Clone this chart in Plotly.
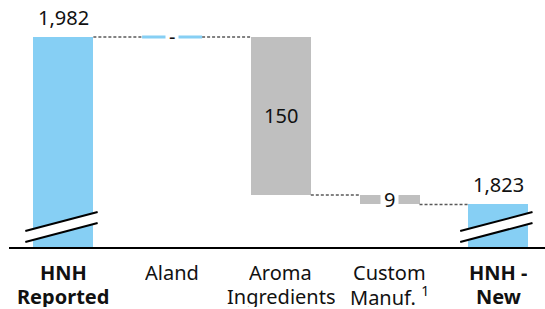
import plotly.graph_objects as go

# ---------------- data ----------------
categories = ["HNH Reported", "Aland", "Aroma Ingredients", "Custom Manuf.", "HNH - New"]
label_line1 = ["<b>HNH</b>", "Aland", "Aroma", "Custom", "<b>HNH -</b>"]
label_line2 = ["<b>Reported</b>", "", "Ingredients", "Manuf. <sup>1</sup>", "<b>New</b>"]
values = [1982, 0, -150, -9, 1823]
measures = ["total", "relative", "relative", "relative", "total"]
value_labels = ["1,982", "-", "150", "9", "1,823"]

# ---------------- style ----------------
BLUE = "#86CFF4"
GRAY = "#BFBFBF"
CONN = "#595959"
FONT = "Noto Sans"
Y_MIN, Y_MAX = 1782.6, 2017
X_MIN, X_MAX = -0.5, 4.43
BAR_W = 0.552

xs = list(range(len(categories)))
lowers, uppers, levels = [], [], []
running = 0
for v, m in zip(values, measures):
    if m == "total":
        lo, hi = 0, v
        running = v
    else:
        start = running
        running = running + v
        lo, hi = min(start, running), max(start, running)
    lowers.append(lo)
    uppers.append(hi)
    levels.append(running)

colors = [BLUE if m == "total" else GRAY for m in measures]

fig = go.Figure()
fig.add_trace(go.Bar(
    x=xs, y=[u - l for u, l in zip(uppers, lowers)], base=lowers,
    width=BAR_W, marker=dict(color=colors, line=dict(width=0)),
    hoverinfo="skip", showlegend=False,
))

shapes = []
# connectors
for i in range(len(xs) - 1):
    shapes.append(dict(type="line", xref="x", yref="y",
                       x0=xs[i] + BAR_W / 2, x1=xs[i + 1] - BAR_W / 2,
                       y0=levels[i], y1=levels[i],
                       line=dict(color=CONN, width=1.5, dash="3px,2px")))
# zero-value bars drawn as a line
for i, v in enumerate(values):
    if measures[i] != "total" and v == 0:
        shapes.append(dict(type="line", xref="x", yref="y",
                           x0=xs[i] - BAR_W / 2, x1=xs[i] + BAR_W / 2,
                           y0=levels[i], y1=levels[i],
                           line=dict(color=BLUE, width=3)))
# axis break marks on total bars
BREAK_LOW = (4.7, 22.8)
BREAK_HIGH = (15.2, 33.2)
for i, m in enumerate(measures):
    if m != "total":
        continue
    xa, xb = xs[i] - 0.35, xs[i] + 0.315
    path = (f"M {xa},{Y_MIN + BREAK_LOW[0]} L {xb},{Y_MIN + BREAK_LOW[1]} "
            f"L {xb},{Y_MIN + BREAK_HIGH[1]} L {xa},{Y_MIN + BREAK_HIGH[0]} Z")
    shapes.append(dict(type="path", xref="x", yref="y", path=path,
                       fillcolor="white", line=dict(width=0)))
    for lo_hi in (BREAK_LOW, BREAK_HIGH):
        shapes.append(dict(type="line", xref="x", yref="y",
                           x0=xa, x1=xb, y0=Y_MIN + lo_hi[0], y1=Y_MIN + lo_hi[1],
                           line=dict(color="black", width=2)))

annotations = []
for i, (m, v, t) in enumerate(zip(measures, values, value_labels)):
    if m == "total":
        annotations.append(dict(x=xs[i], y=uppers[i], xref="x", yref="y", text=t,
                                showarrow=False, yanchor="bottom", yshift=4,
                                font=dict(family=FONT, size=20, color="#111")))
    else:
        small = abs(v) < 20
        annotations.append(dict(x=xs[i], y=(uppers[i] + lowers[i]) / 2, xref="x", yref="y",
                                text=t, showarrow=False, yanchor="middle",
                                bgcolor="white" if small else "rgba(0,0,0,0)",
                                borderpad=3 if small else 1,
                                font=dict(family=FONT, size=20, color="#111")))
# category labels
for i in xs:
    annotations.append(dict(x=xs[i], y=0, xref="x", yref="paper", text=label_line1[i],
                            showarrow=False, yanchor="middle", yshift=-25, height=22,
                            font=dict(family=FONT, size=20, color="#111")))
    if label_line2[i]:
        annotations.append(dict(x=xs[i], y=0, xref="x", yref="paper", text=label_line2[i],
                                showarrow=False, yanchor="middle", yshift=-49, height=22,
                                font=dict(family=FONT, size=20, color="#111")))

fig.update_layout(
    width=545, height=309,
    margin=dict(l=9, r=0, t=0, b=62),
    paper_bgcolor="white", plot_bgcolor="white",
    shapes=shapes, annotations=annotations,
    xaxis=dict(range=[X_MIN, X_MAX], showticklabels=False, showgrid=False,
               zeroline=False, showline=True, linecolor="black", linewidth=2, ticks=""),
    yaxis=dict(range=[Y_MIN, Y_MAX], visible=False),
    bargap=0,
    font=dict(family=FONT),
)

fig.write_html("out.html", config={"displayModeBar": False},
               post_script="document.body.style.margin='0px';document.body.style.overflow='hidden';")
